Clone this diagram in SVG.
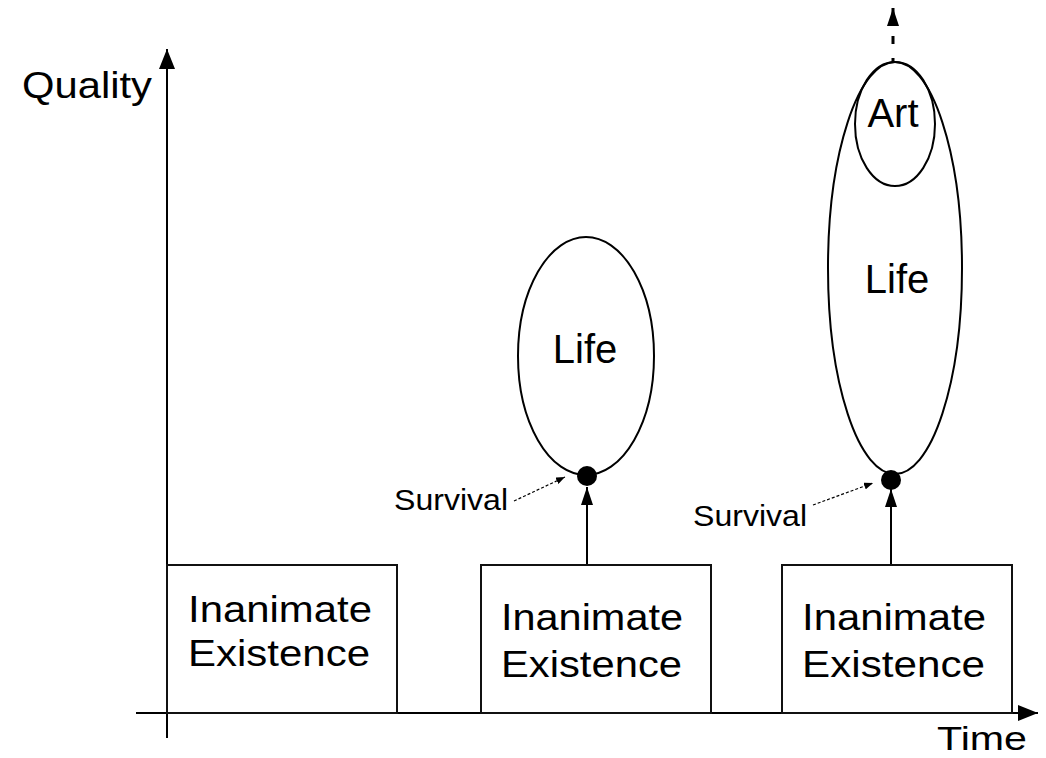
<svg xmlns="http://www.w3.org/2000/svg" width="1046" height="758" viewBox="0 0 1046 758">
<style>
text{font-family:"Liberation Sans",Arial,sans-serif;fill:#000}
.box{fill:#fff;stroke:#111;stroke-width:2}
.ell{fill:none;stroke:#000;stroke-width:2}
.ax{stroke:#000;stroke-width:2;fill:none}
.dash{stroke:#000;stroke-width:1.2;stroke-dasharray:3,2;fill:none}
.big{font-size:37px}
.tm{font-size:34px}
.mid{font-size:40px}
.sm{font-size:30px}
</style>
<defs>
<marker id="ah" markerWidth="20" markerHeight="16" refX="20" refY="8" orient="auto" markerUnits="userSpaceOnUse"><path d="M0,0 L20,8 L0,16 Z" fill="#000"/></marker>
<marker id="ahs" markerWidth="18" markerHeight="12" refX="18" refY="6" orient="auto" markerUnits="userSpaceOnUse"><path d="M0,0 L18,6 L0,12 Z" fill="#000"/></marker>
<marker id="aht" markerWidth="9" markerHeight="7" refX="9" refY="3.5" orient="auto" markerUnits="userSpaceOnUse"><path d="M0,0 L9,3.5 L0,7 Z" fill="#000"/></marker>
</defs>
<g id="connectors">
<line class="ax" x1="167" y1="738" x2="167" y2="49" marker-end="url(#ah)"/>
<line class="ax" x1="136" y1="713" x2="1038" y2="713" marker-end="url(#ah)"/>
<line class="ax" x1="587" y1="565" x2="587" y2="487" marker-end="url(#ahs)"/>
<line class="ax" x1="891" y1="565" x2="891" y2="489" marker-end="url(#ahs)"/>
<line class="dash" x1="514" y1="501" x2="565" y2="477" marker-end="url(#aht)"/>
<line class="dash" x1="813" y1="505" x2="873" y2="483" marker-end="url(#aht)"/>
<line x1="893" y1="62" x2="893" y2="8" stroke="#000" stroke-width="3" stroke-dasharray="4,14,8,14,16" marker-end="url(#ahs)"/>
</g>
<g id="label-quality"><text class="big" x="22" y="98" textLength="130" lengthAdjust="spacingAndGlyphs">Quality</text></g>
<g id="label-time"><text class="tm" x="937" y="750" textLength="90" lengthAdjust="spacingAndGlyphs">Time</text></g>
<g id="box1">
<rect class="box" x="167" y="565" width="230" height="148"/>
<text class="big" x="188" y="622" textLength="184" lengthAdjust="spacingAndGlyphs">Inanimate</text>
<text class="big" x="188" y="666" textLength="182" lengthAdjust="spacingAndGlyphs">Existence</text>
</g>
<g id="box2">
<rect class="box" x="481" y="565" width="230" height="148"/>
<text class="big" x="501" y="630" textLength="182" lengthAdjust="spacingAndGlyphs">Inanimate</text>
<text class="big" x="501" y="677" textLength="181" lengthAdjust="spacingAndGlyphs">Existence</text>
</g>
<g id="box3">
<rect class="box" x="782" y="565" width="230" height="148"/>
<text class="big" x="802" y="630" textLength="184" lengthAdjust="spacingAndGlyphs">Inanimate</text>
<text class="big" x="802" y="677" textLength="183" lengthAdjust="spacingAndGlyphs">Existence</text>
</g>
<g id="life1">
<ellipse class="ell" cx="586" cy="356" rx="68" ry="119"/>
<text class="mid" x="585" y="363" text-anchor="middle">Life</text>
</g>
<g id="survival1">
<circle cx="587" cy="476" r="10" fill="#000"/>
<text class="sm" x="394" y="510" textLength="114" lengthAdjust="spacingAndGlyphs">Survival</text>
</g>
<g id="life2">
<ellipse class="ell" cx="895" cy="268" rx="67" ry="206"/>
<text class="mid" x="897" y="293" text-anchor="middle">Life</text>
</g>
<g id="art">
<ellipse class="ell" cx="895" cy="124" rx="40" ry="62"/>
<text class="mid" x="893" y="127" text-anchor="middle">Art</text>
</g>
<g id="survival2">
<circle cx="891" cy="480" r="10" fill="#000"/>
<text class="sm" x="693" y="526" textLength="114" lengthAdjust="spacingAndGlyphs">Survival</text>
</g>
</svg>
